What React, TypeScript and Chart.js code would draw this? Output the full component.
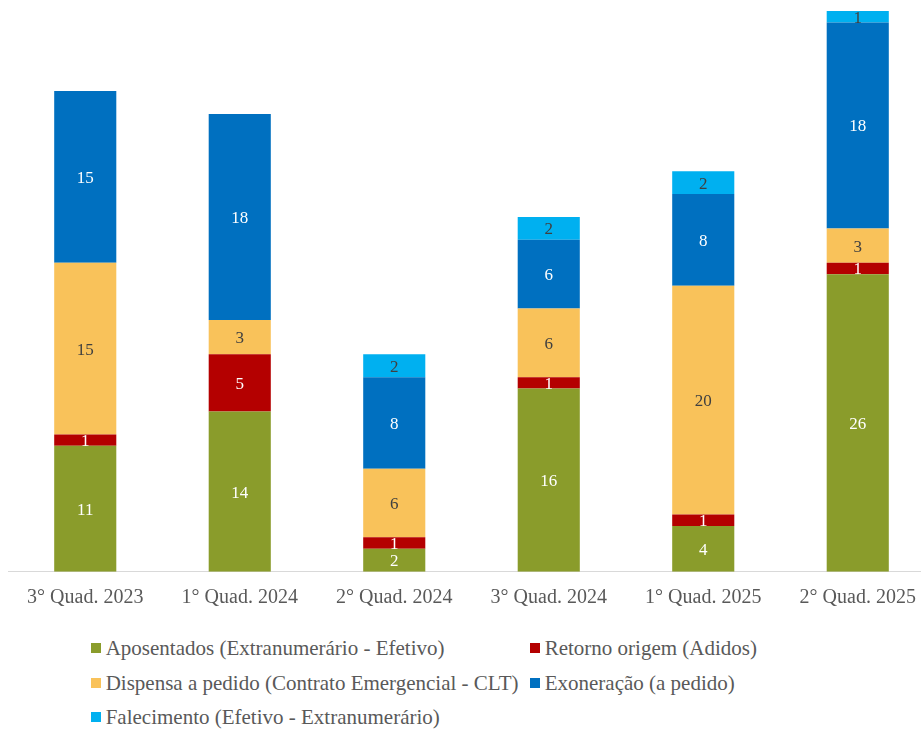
import React, { useEffect, useRef } from "react";
import { Chart, registerables } from "chart.js";

Chart.register(...registerables);

const categories = ["3° Quad. 2023", "1° Quad. 2024", "2° Quad. 2024", "3° Quad. 2024", "1° Quad. 2025", "2° Quad. 2025"];
const aposentados = [11, 14, 2, 16, 4, 26];
const retorno = [1, 5, 1, 1, 1, 1];
const dispensa = [15, 3, 6, 6, 20, 3];
const exoneracao = [15, 18, 8, 6, 8, 18];
const falecimento = [0, 0, 2, 2, 2, 1];

const seriesNames = [
  "Aposentados (Extranumerário - Efetivo)",
  "Retorno origem (Adidos)",
  "Dispensa a pedido (Contrato Emergencial - CLT)",
  "Exoneração (a pedido)",
  "Falecimento (Efetivo - Extranumerário)",
];
const seriesColors = ["#8A9C2B", "#B40000", "#F9C25A", "#0070C0", "#00B0F0"];
const labelColors = ["#FFFFFF", "#FFFFFF", "#404040", "#FFFFFF", "#404040"];
const seriesData = [aposentados, retorno, dispensa, exoneracao, falecimento];

const FONT = '"Liberation Serif", Tinos, "Times New Roman", "DejaVu Serif", "Noto Serif", serif';

const valueLabels = {
  id: "valueLabels",
  afterDatasetsDraw(chart: any) {
    const ctx = chart.ctx;
    ctx.save();
    ctx.font = `17px ${FONT}`;
    ctx.textAlign = "center";
    ctx.textBaseline = "middle";
    chart.data.datasets.forEach((ds: any, di: number) => {
      const meta = chart.getDatasetMeta(di);
      meta.data.forEach((el: any, i: number) => {
        const v = ds.data[i];
        if (!v) return;
        ctx.fillStyle = labelColors[di];
        ctx.fillText(String(v), el.x, (el.y + el.base) / 2 + 1.5);
      });
    });
    ctx.restore();
  },
};

export default function App() {
  const canvasRef = useRef<HTMLCanvasElement | null>(null);

  useEffect(() => {
    if (!canvasRef.current) return;
    const chart = new Chart(canvasRef.current, {
      type: "bar",
      data: {
        labels: categories,
        datasets: seriesNames.map((name, i) => ({
          label: name,
          data: seriesData[i],
          backgroundColor: seriesColors[i],
          borderWidth: 0,
          barPercentage: 0.402,
          categoryPercentage: 1,
        })),
      },
      options: {
        animation: false,
        responsive: false,
        maintainAspectRatio: false,
        layout: { padding: { top: 3, left: 0, right: 0, bottom: 0 } },
        plugins: {
          legend: { display: false },
          tooltip: { enabled: false },
        },
        scales: {
          x: {
            stacked: true,
            grid: { display: false, drawTicks: false },
            border: { display: true, color: "#D9D9D9", width: 1 },
            ticks: {
              color: "#595959",
              font: { family: FONT, size: 20 },
              padding: 14,
              maxRotation: 0,
              autoSkip: false,
            },
            afterFit(scale: any) {
              scale.height = 56.3;
            },
          },
          y: {
            stacked: true,
            display: false,
            min: 0,
            max: 49,
          },
        },
      },
      plugins: [valueLabels],
    });
    return () => chart.destroy();
  }, []);

  const legendItem = (i: number) => (
    <div key={i} style={{ display: "flex", alignItems: "center", whiteSpace: "nowrap" }}>
      <span
        style={{
          display: "inline-block",
          width: 10,
          height: 10,
          background: seriesColors[i],
          marginRight: 5,
        }}
      />
      <span>{seriesNames[i]}</span>
    </div>
  );

  return (
    <div
      style={{
        position: "fixed",
        left: 0,
        top: 0,
        width: 921,
        height: 729,
        overflow: "hidden",
        background: "#FFFFFF",
        fontFamily: FONT,
      }}
    >
      <div style={{ position: "absolute", left: 8, top: 8 }}>
        <canvas ref={canvasRef} width={927} height={620} style={{ display: "block", width: 927, height: 620 }} />
        <div
          style={{
            display: "grid",
            gridTemplateColumns: "439px auto",
            gridAutoRows: "34.5px",
            marginLeft: 82.7,
            marginTop: 3,
            fontSize: 21,
            color: "#595959",
            lineHeight: "34.5px",
          }}
        >
          {legendItem(0)}
          {legendItem(1)}
          {legendItem(2)}
          {legendItem(3)}
          {legendItem(4)}
        </div>
      </div>
    </div>
  );
}
